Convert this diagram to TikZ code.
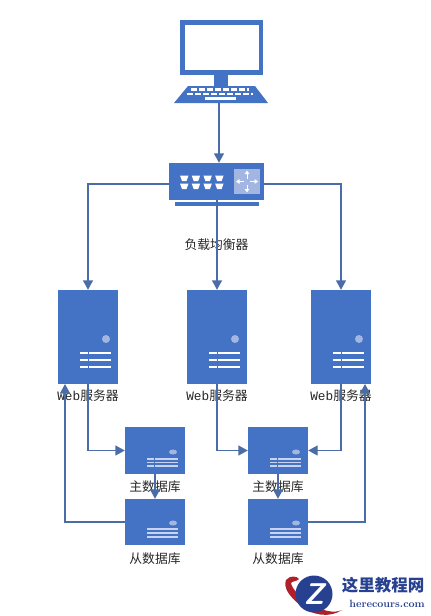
\documentclass[tikz,border=0pt]{standalone}
\usepackage{fontspec}
\usepackage{xcolor}
\usepackage{tikz}
\usetikzlibrary{arrows.meta,positioning,shapes.geometric}
\newfontfamily\cjk{Noto Sans CJK SC}
\setmonofont{Liberation Mono}
\definecolor{boxblue}{HTML}{4472C4}
\definecolor{lineblue}{HTML}{4A6DA8}
\definecolor{paleblue}{HTML}{A3B6E2}
\definecolor{logoblue}{HTML}{27408F}
\definecolor{logored}{HTML}{B0202A}
\tikzset{
  webbox/.style={draw=none,fill=boxblue,minimum width=60pt,minimum height=94pt,inner sep=0pt},
  masterbox/.style={draw=none,fill=boxblue,minimum width=60pt,minimum height=47pt,inner sep=0pt},
  slavebox/.style={draw=none,fill=boxblue,minimum width=60pt,minimum height=46pt,inner sep=0pt},
  caption/.style={font=\fontsize{12.8}{14}\selectfont\cjk,inner sep=0pt,text=black!85},
  link/.style={draw=lineblue,line width=1.4pt},
  linkto/.style={link,-{Triangle[width=10pt,length=9.5pt]}}
}
\begin{document}
\begin{tikzpicture}[x=1pt,y=-1pt]
\useasboundingbox (0,0) rectangle (431,616);
% Draw computer
\node[inner sep=0pt,minimum width=94pt,minimum height=83pt] (pc) at (219,61.5) {};
\fill[boxblue] (180,20) rectangle (263,75);
\fill[white] (184.5,24.5) rectangle (259,70);
\fill[boxblue] (214,75) rectangle (228,86);
\fill[boxblue] (188,86) -- (255,86) -- (268,103) -- (174,103) -- cycle;
\draw[white,line width=2.6pt,dash pattern=on 6pt off 2pt] (191,89.5) -- (249,89.5);
\draw[white,line width=2.6pt,dash pattern=on 6pt off 2pt] (187,94) -- (253,94);
\draw[white,line width=2.4pt] (205,98.5) -- (236,98.5);
% Draw load balancer
\node[draw=none,fill=boxblue,minimum width=95pt,minimum height=37pt,inner sep=0pt] (lb) at (216.5,181.5) {};
\fill[boxblue] (175,202) rectangle (259,206);
\fill[paleblue] (234,169) rectangle (260,194);
\foreach \i in {0,...,3} {
    \fill[white] (180+\i*11.7,175.5) -- (188.5+\i*11.7,175.5) -- (186.5+\i*11.7,181) -- (182+\i*11.7,181) -- cycle;
    \fill[white] (180+\i*11.7,183.5) -- (188.5+\i*11.7,183.5) -- (186.5+\i*11.7,189) -- (182+\i*11.7,189) -- cycle;
}
\foreach \a in {0,90,180,270} {
    \draw[white,line width=1pt,-{Triangle[width=4.5pt,length=3.5pt]},rotate around={\a:(247,181.5)}] (250,181.5) -- (258,181.5);
}
\node[caption] (lblabel) at (216.5,245) {负载均衡器};
% Draw web servers
\node[webbox] (web1) at (88,337) {};
\node[webbox] (web2) at (217,337) {};
\node[webbox] (web3) at (341,337) {};
\foreach \n in {web1,web2,web3} {
    \fill[paleblue] ([shift={(18,2)}]\n.center) circle (4pt);
    \foreach \r/\w in {16/2.6,23/2.6,30/1.8} {
        \draw[white,line width=\w pt] ([shift={(-8,\r)}]\n.center) -- ([shift={(0,\r)}]\n.center);
        \draw[white,line width=\w pt] ([shift={(1,\r)}]\n.center) -- ([shift={(23,\r)}]\n.center);
    }
}
\node[caption] (web1label) at (88,396) {{\ttfamily Web}服务器};
\node[caption] (web2label) at (217,396) {{\ttfamily Web}服务器};
\node[caption] (web3label) at (341,396) {{\ttfamily Web}服务器};
% Draw databases
\node[masterbox] (master1) at (155,450.5) {};
\node[masterbox] (master2) at (278,450.5) {};
\node[slavebox] (slave1) at (155,522) {};
\node[slavebox] (slave2) at (278,522) {};
\foreach \n in {master1,master2} {
    \fill[paleblue] ([shift={(18,1.5)}]\n.center) ellipse (4pt and 2.5pt);
    \foreach \r in {8.5,12,15.5} {
        \draw[paleblue!60!white,line width=1.3pt] ([shift={(-8,\r)}]\n.center) -- ([shift={(-1,\r)}]\n.center);
        \draw[paleblue!60!white,line width=1.3pt] ([shift={(0,\r)}]\n.center) -- ([shift={(23,\r)}]\n.center);
    }
}
\foreach \n in {slave1,slave2} {
    \fill[paleblue] ([shift={(18,1)}]\n.center) ellipse (4pt and 2.5pt);
    \foreach \r in {7,11,15} {
        \draw[paleblue!60!white,line width=1.3pt] ([shift={(-8,\r)}]\n.center) -- ([shift={(23,\r)}]\n.center);
    }
}
\node[caption] (master1label) at (155,487) {主数据库};
\node[caption] (master2label) at (278,487) {主数据库};
\node[caption] (slave1label) at (155,559) {从数据库};
\node[caption] (slave2label) at (278,559) {从数据库};
% Show connections
\coordinate (back1) at (65,384);
\coordinate (back2) at (365,384);
\draw[linkto] (pc.south) -- (pc.south |- lb.north);
\draw[linkto] ([yshift=-2.5pt]lb.west) -| (web1.north);
\draw[linkto] (lb.south -| web2.north) -- (web2.north);
\draw[linkto] ([yshift=-2.5pt]lb.east) -| (web3.north);
\draw[linkto] (web1.south) |- (master1.west);
\draw[linkto] (web2.south) |- (master2.west);
\draw[linkto] (web3.south) |- (master2.east);
\draw[linkto] (master1.south) -- (slave1.north);
\draw[linkto] (master2.south) -- (slave2.north);
\draw[linkto] (slave1.west) -| (back1);
\draw[linkto] (slave2.east) -| (back2);
% Draw site mark
\fill[logored] (286,580) .. controls (290,575) and (297,576) .. (299,579) .. controls (296,582) and (292,581) .. (291,583) .. controls (293,595) and (325,618) .. (342,610) .. controls (330,618) and (312,616) .. (300,605) .. controls (290,597) and (283,588) .. (286,580) -- cycle;
\node[circle,fill=logoblue,minimum size=37pt,inner sep=0pt,text=white,font=\fontsize{30}{30}\selectfont\bfseries\itshape\sffamily] (logo) at (314,594) {Z};
\node[font=\fontsize{16.5}{18}\selectfont\cjk\bfseries,text=logoblue,inner sep=0pt] (sitename) at (383,585) {这里教程网};
\node[font=\fontsize{10.5}{12}\selectfont\rmfamily\bfseries,text=logoblue,inner sep=0pt] (siteurl) at (387,604) {herecours.com};
\end{tikzpicture}
\end{document}
